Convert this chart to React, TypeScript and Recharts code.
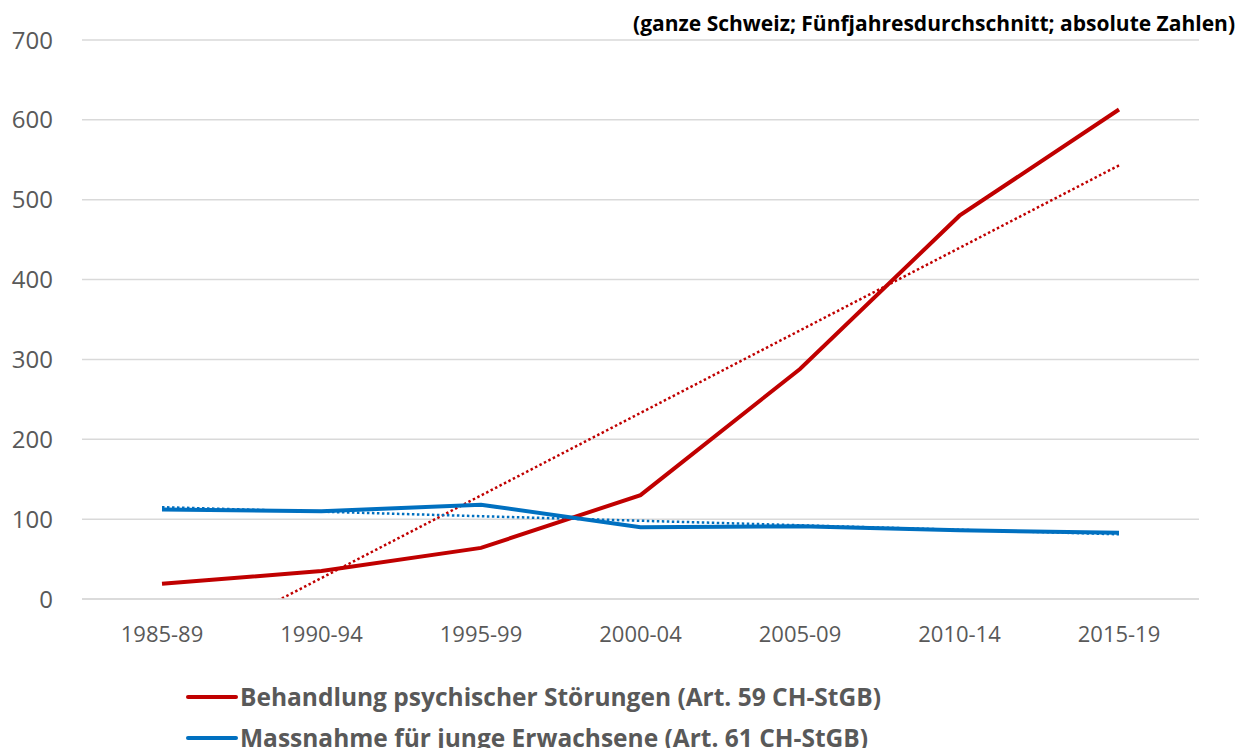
import { LineChart, Line, XAxis, YAxis, CartesianGrid, ReferenceLine } from "recharts";

const periods = ["1985-89", "1990-94", "1995-99", "2000-04", "2005-09", "2010-14", "2015-19"];
const art59 = [19, 35, 64, 130, 288, 480, 613];
const art61 = [112, 110, 118, 90, 91, 86, 83];

// linear trend endpoints as drawn in the original (first / last period)
const art59Trend = [-77, 543];
const art61Trend = [115, 81];

const yTicks = [0, 100, 200, 300, 400, 500, 600, 700];

const RED = "#C00000";
const BLUE = "#0070C0";
const GREY = "#595959";
const FONT = "'Open Sans', 'Noto Sans', sans-serif";

const data = periods.map((p, i) => ({ period: p, art59: art59[i], art61: art61[i] }));

const legendItems = [
  { color: RED, label: "Behandlung psychischer Störungen (Art. 59 CH-StGB)" },
  { color: BLUE, label: "Massnahme für junge Erwachsene (Art. 61 CH-StGB)" },
];

export default function App() {
  return (
    <div style={{ position: "absolute", left: 0, top: 0, width: 1248, height: 748, background: "#fff", fontFamily: FONT, overflow: "hidden" }}>
      <div
        style={{
          position: "absolute",
          right: 13,
          top: 9,
          fontSize: 21,
          fontWeight: 700,
          color: "#000",
          whiteSpace: "nowrap",
        }}
      >
        (ganze Schweiz; Fünfjahresdurchschnitt; absolute Zahlen)
      </div>

      <LineChart width={1248} height={660} data={data} margin={{ top: 40, right: 49, left: 0, bottom: 0 }}>
        <CartesianGrid vertical={false} stroke="#d9d9d9" strokeWidth={1.5} />
        <XAxis
          dataKey="period"
          height={61}
          padding={{ left: 80, right: 80 }}
          tickLine={false}
          axisLine={{ stroke: "#d9d9d9", strokeWidth: 1.5 }}
          tickSize={0}
          tickMargin={27}
          interval={0}
          tick={{ fontSize: 22, fill: GREY, fontFamily: FONT }}
        />
        <YAxis
          width={82}
          domain={[0, 700]}
          ticks={yTicks}
          allowDataOverflow
          tickLine={false}
          axisLine={false}
          tickSize={0}
          tickMargin={29}
          tick={{ fontSize: 24, fill: GREY, fontFamily: FONT }}
        />
        <ReferenceLine
          segment={[
            { x: periods[0], y: art59Trend[0] },
            { x: periods[periods.length - 1], y: art59Trend[1] },
          ]}
          ifOverflow="hidden"
          stroke={RED}
          strokeWidth={2.5}
          strokeDasharray="2.5 2.5"
        />
        <ReferenceLine
          segment={[
            { x: periods[0], y: art61Trend[0] },
            { x: periods[periods.length - 1], y: art61Trend[1] },
          ]}
          ifOverflow="hidden"
          stroke={BLUE}
          strokeWidth={2.5}
          strokeDasharray="2.5 2.5"
        />
        <Line
          type="linear"
          dataKey="art59"
          stroke={RED}
          strokeWidth={4}
          dot={false}
          isAnimationActive={false}
        />
        <Line
          type="linear"
          dataKey="art61"
          stroke={BLUE}
          strokeWidth={4}
          dot={false}
          isAnimationActive={false}
        />
      </LineChart>

      <div style={{ position: "absolute", left: 186, top: 676 }}>
        {legendItems.map((item) => (
          <div key={item.label} style={{ display: "flex", alignItems: "center", height: 41 }}>
            <div style={{ width: 52, height: 4, borderRadius: 2, background: item.color, marginRight: 2 }} />
            <span style={{ fontSize: 24.5, fontWeight: 700, color: GREY, whiteSpace: "nowrap", lineHeight: "41px" }}>
              {item.label}
            </span>
          </div>
        ))}
      </div>
    </div>
  );
}
